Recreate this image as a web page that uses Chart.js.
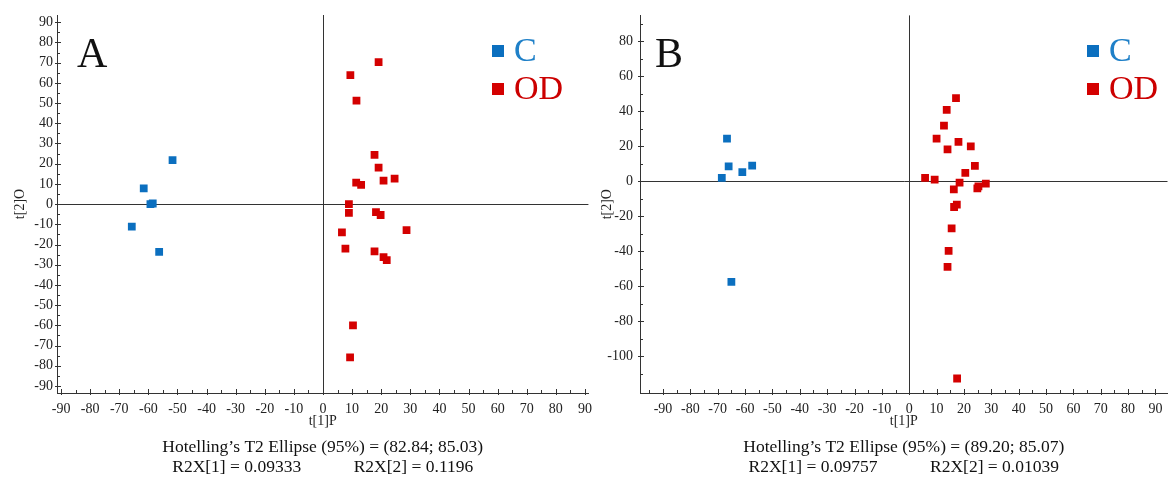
<!DOCTYPE html>
<html>
<head>
<meta charset="utf-8">
<script src="https://cdn.jsdelivr.net/npm/chart.js@4.4.0/dist/chart.umd.min.js"></script>
<style>
  html, body { margin: 0; padding: 0; background: #fff; }
  body { width: 1173px; height: 477px; position: relative; overflow: hidden; }
  .panel { position: absolute; top: 0; height: 477px; }
  #panelA { left: 0; width: 600px; }
  #panelB { left: 590px; width: 583px; }
</style>
</head>
<body>
<div class="panel" id="panelA"><canvas id="chartA"></canvas></div>
<div class="panel" id="panelB"><canvas id="chartB"></canvas></div>
<script>
// Panel A scores
const aControlX = [-51.7, -61.6, -59.3, -58.5, -65.7, -56.3];
const aControlY = [21.8, 7.8, 0, 0.3, -11.2, -23.6];
const aOdX = [9.4, 19.1, 11.5, 17.7, 19.1, 11.4, 13.1, 20.8, 24.6, 8.9, 8.9, 18.2, 19.8, 6.5, 28.7, 7.7, 17.7, 20.8, 21.9, 10.3, 9.3];
const aOdY = [63.8, 70.3, 51.2, 24.4, 18.1, 10.6, 9.5, 11.6, 12.6, 0, -4.3, -4, -5.4, -14, -12.9, -22, -23.4, -26.2, -27.7, -60, -75.9];

// Panel B scores
const bControlX = [-66.6, -66, -61, -57.4, -68.5, -65];
const bControlY = [24.4, 8.6, 5.3, 9, 1.9, -57.5];
const bOdX = [17.1, 13.7, 12.7, 10, 14, 18, 22.5, 24, 20.5, 5.8, 9.3, 18.4, 16.3, 24.9, 25.3, 28, 16.4, 17.4, 15.5, 14.4, 14, 17.5];
const bOdY = [47.6, 40.8, 31.8, 24.4, 18.3, 22.5, 20, 8.8, 4.8, 1.9, 1, -0.8, -4.6, -4, -2.9, -1.3, -14.7, -13.3, -26.9, -39.8, -49, -112.8];

// ticks (all marks) and the ones that get a label
const xTicksA = [-90, -85, -80, -75, -70, -65, -60, -55, -50, -45, -40, -35, -30, -25, -20, -15, -10, -5, 0, 5, 10, 15, 20, 25, 30, 35, 40, 45, 50, 55, 60, 65, 70, 75, 80, 85, 90];
const xTicksB = [-95].concat(xTicksA);
const xLabels = [-90, -80, -70, -60, -50, -40, -30, -20, -10, 0, 10, 20, 30, 40, 50, 60, 70, 80, 90];
const yTicksA = xTicksA;
const yLabelsA = xLabels;
const yTicksB = [90, 80, 70, 60, 50, 40, 30, 20, 10, 0, -10, -20, -30, -40, -50, -60, -70, -80, -90, -100, -110];
const yLabelsB = [80, 60, 40, 20, 0, -20, -40, -60, -80, -100];

const notesA = ['Hotelling\u2019s T2 Ellipse (95%) = (82.84; 85.03)', 'R2X[1] = 0.09333\u2003\u2003\u2003R2X[2] = 0.1196'];
const notesB = ['Hotelling\u2019s T2 Ellipse (95%) = (89.20; 85.07)', 'R2X[1] = 0.09757\u2003\u2003\u2003R2X[2] = 0.01039'];

const serif = "'Liberation Serif', 'DejaVu Serif', serif";
const axisColor = '#333333';
const blue = '#0b6fbf';
const red = '#d40000';
const blueText = '#1f80c8';
const redText = '#cc0000';

const toPoints = (xs, ys) => xs.map((x, i) => ({ x: x, y: ys[i] }));

// panel letter and the coloured legend in the upper right
const decorPlugin = {
  id: 'panelDecor',
  afterDraw(chart, args, opts) {
    const ctx = chart.ctx;
    ctx.save();
    ctx.textAlign = 'left';
    ctx.textBaseline = 'alphabetic';
    ctx.fillStyle = '#111';
    ctx.font = '42px ' + serif;
    ctx.fillText(opts.letter, opts.letterX, opts.letterY);
    ctx.font = '34px ' + serif;
    chart.data.datasets.forEach((ds, i) => {
      const top = opts.legendY + i * 38;
      ctx.fillStyle = ds.backgroundColor;
      ctx.fillRect(opts.legendX, top, 12, 12);
      ctx.fillStyle = ds.textColor;
      ctx.fillText(ds.label, opts.legendX + 22, top + 16);
    });
    ctx.restore();
  }
};

// major / minor tick marks on the axis lines
const tickPlugin = {
  id: 'axisTicks',
  afterDraw(chart, args, opts) {
    const ctx = chart.ctx, area = chart.chartArea;
    const xs = chart.scales.x, ys = chart.scales.y;
    ctx.save();
    ctx.strokeStyle = axisColor;
    ctx.lineWidth = 1;
    ctx.beginPath();
    xs.ticks.forEach(t => {
      const px = Math.round(xs.getPixelForValue(t.value)) + 0.5;
      const major = opts.xLabels.includes(t.value);
      ctx.moveTo(px, area.bottom - (major ? 4 : 3));
      ctx.lineTo(px, area.bottom + (major ? 2 : 0));
    });
    ys.ticks.forEach(t => {
      const py = Math.round(ys.getPixelForValue(t.value)) + 0.5;
      const major = opts.yLabels.includes(t.value);
      ctx.moveTo(area.left + (major ? 4 : 3), py);
      ctx.lineTo(area.left - (major ? 2 : 0), py);
    });
    ctx.stroke();
    ctx.restore();
  }
};

function buildChart(id, p) {
  const tickFont = { family: serif, size: 14 };
  const zeroLine = ctx => (ctx.tick && ctx.tick.value === 0) ? axisColor : 'rgba(0,0,0,0)';
  return new Chart(document.getElementById(id), {
    type: 'scatter',
    data: {
      datasets: [
        { label: 'C', data: toPoints(p.cx, p.cy), backgroundColor: blue, borderColor: blue, textColor: blueText },
        { label: 'OD', data: toPoints(p.ox, p.oy), backgroundColor: red, borderColor: red, textColor: redText }
      ]
    },
    options: {
      responsive: true,
      maintainAspectRatio: false,
      animation: false,
      events: [],
      layout: { padding: { top: 15, right: p.padRight, left: 0, bottom: 0 } },
      elements: { point: { pointStyle: 'rect', radius: 5.5, borderWidth: 0 } },
      plugins: {
        legend: { display: false },
        tooltip: { enabled: false },
        title: {
          display: true,
          position: 'bottom',
          fullSize: false,
          text: p.notes,
          color: '#111',
          font: { family: serif, size: 17.5, weight: 'normal', lineHeight: 20 / 17.5 },
          padding: { top: 4, bottom: 0 }
        },
        panelDecor: p.decor,
        axisTicks: { xLabels: xLabels, yLabels: p.yLabels }
      },
      scales: {
        x: {
          type: 'linear',
          min: p.xMin,
          max: p.xMax,
          afterBuildTicks: s => { s.ticks = p.xTicks.map(v => ({ value: v })); },
          afterFit: s => { s.height = 40; },
          ticks: {
            autoSkip: false,
            maxRotation: 0,
            padding: 8,
            color: '#222',
            font: tickFont,
            callback: v => xLabels.includes(v) ? String(v) : ''
          },
          grid: { drawTicks: false, color: zeroLine },
          border: { display: true, color: axisColor },
          title: { display: true, text: 't[1]P', color: '#222', font: tickFont, padding: { top: 0, bottom: 3 } }
        },
        y: {
          type: 'linear',
          min: p.yMin,
          max: p.yMax,
          afterBuildTicks: s => { s.ticks = p.yTicks.map(v => ({ value: v })); },
          afterFit: s => { s.width = p.yWidth; },
          ticks: {
            autoSkip: false,
            padding: p.yLabelPad,
            color: '#222',
            font: tickFont,
            callback: v => p.yLabels.includes(v) ? String(v) : ''
          },
          grid: { drawTicks: false, color: zeroLine },
          border: { display: true, color: axisColor },
          title: { display: true, text: 't[2]O', color: '#222', font: tickFont, padding: { top: p.yTitlePad, bottom: 0 } }
        }
      }
    },
    plugins: [decorPlugin, tickPlugin]
  });
}

buildChart('chartA', {
  cx: aControlX, cy: aControlY, ox: aOdX, oy: aOdY,
  xMin: -91.4, xMax: 91.2, yMin: -93.5, yMax: 93.6,
  xTicks: xTicksA, yTicks: yTicksA, yLabels: yLabelsA,
  yWidth: 57, yLabelPad: 4, yTitlePad: 12, padRight: 9,
  notes: notesA,
  decor: { letter: 'A', letterX: 77, letterY: 67, legendX: 492, legendY: 45 }
});

buildChart('chartB', {
  cx: bControlX, cy: bControlY, ox: bOdX, oy: bOdY,
  xMin: -98.4, xMax: 94.4, yMin: -121.1, yMax: 94.9,
  xTicks: xTicksB, yTicks: yTicksB, yLabels: yLabelsB,
  yWidth: 50, yLabelPad: 7, yTitlePad: 9, padRight: 0,
  notes: notesB,
  decor: { letter: 'B', letterX: 65, letterY: 67, legendX: 497, legendY: 45 }
});
</script>
</body>
</html>
